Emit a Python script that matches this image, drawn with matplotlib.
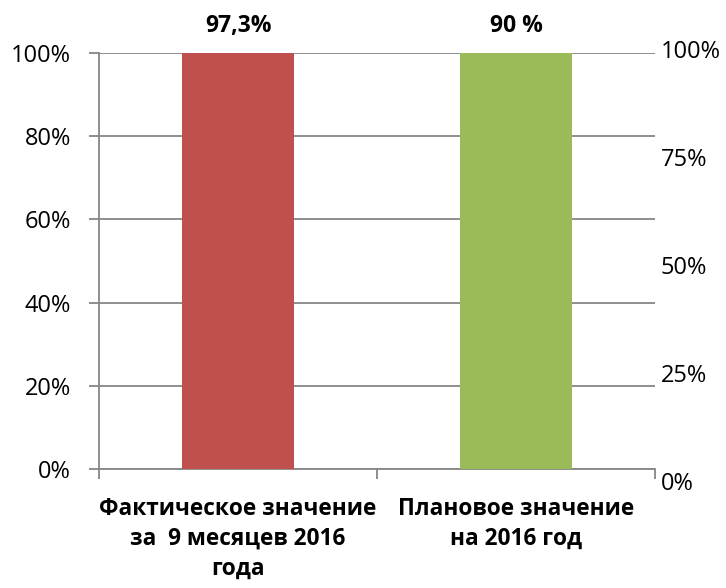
import matplotlib.pyplot as plt

categories = ['Фактическое значение\nза  9 месяцев 2016\nгода', 'Плановое значение\nна 2016 год']
values = [100, 100]
bar_labels = ['97,3%', '90 %']
colors = ['#C0504D', '#9BBB59']
left_ticks = [0, 20, 40, 60, 80, 100]
right_ticks = [0, 25, 50, 75, 100]

plt.rcParams['font.family'] = ['Open Sans', 'DejaVu Sans']

W, H = 726, 588
fig = plt.figure(figsize=(W / 100, H / 100), dpi=100)
# plot area in pixels: x 99..655, y 53..469
ax = fig.add_axes([99 / W, 1 - 469 / H, 556 / W, 416 / H])

x = range(len(categories))
bars = ax.bar(x, values, width=0.4, color=colors, zorder=3)
for b, lab in zip(bars, bar_labels):
    ax.annotate(lab, (b.get_x() + b.get_width() / 2, b.get_height()),
                xytext=(0, 11), textcoords='offset points',
                ha='center', va='bottom', fontsize=16.5, fontweight='bold')

ax.set_xlim(-0.5, 1.5)
ax.set_ylim(0, 100)
ax.set_yticks(left_ticks)
ax.set_yticklabels([f'{t}%' for t in left_ticks], fontsize=17)
ax.yaxis.grid(True, color='#868686', linewidth=1.3, zorder=0)
ax.tick_params(axis='y', length=7, color='#868686', width=1.3, pad=13)

ax.set_xticks(x)
ax.set_xticklabels(categories, fontsize=16.3, fontweight='bold', linespacing=1.32)
ax.set_xticks([-0.5, 0.5, 1.5], minor=True)
ax.tick_params(axis='x', which='major', length=0, pad=20)
ax.tick_params(axis='x', which='minor', length=7, color='#868686', width=1.3)

for s in ['top', 'right']:
    ax.spines[s].set_visible(False)
for s in ['left', 'bottom']:
    ax.spines[s].set_color('#868686')
    ax.spines[s].set_linewidth(1.3)

# secondary axis on the right, 0..100 over pixels 49..481
ax2 = fig.add_axes([99 / W, 1 - 481 / H, 556 / W, 432 / H])
ax2.patch.set_visible(False)
ax2.set_xticks([])
ax2.set_ylim(0, 100)
ax2.yaxis.tick_right()
ax2.set_yticks(right_ticks)
ax2.set_yticklabels([f'{t}%' for t in right_ticks], fontsize=17)
ax2.tick_params(axis='y', length=0, pad=4)
for s in ax2.spines.values():
    s.set_visible(False)

fig.savefig('out.png', dpi=100)
